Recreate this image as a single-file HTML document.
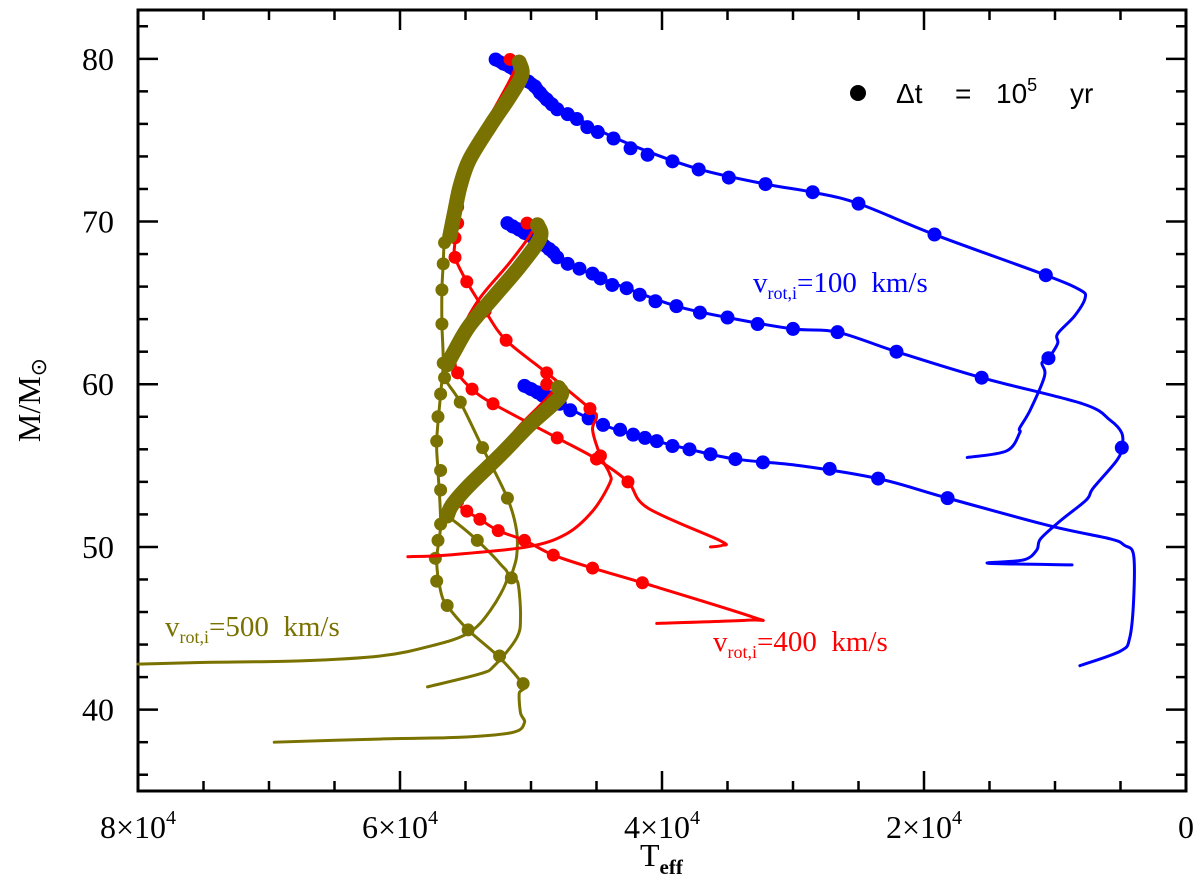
<!DOCTYPE html>
<html><head><meta charset="utf-8"><style>
html,body{margin:0;padding:0;background:#fff}
svg{display:block}
text{font-family:"Liberation Serif",serif}
</style></head><body>
<svg id="chart" width="1200" height="893" viewBox="0 0 1200 893" xmlns="http://www.w3.org/2000/svg">
<g id="axes"></g>
<g id="series"></g>
<g style="font-family:'Liberation Sans',sans-serif">
<circle cx="858" cy="93" r="8" fill="#000"/>
<text x="896" y="103" font-size="28" style="font-family:'Liberation Sans',sans-serif">Δt</text>
<text x="955" y="103" font-size="28" style="font-family:'Liberation Sans',sans-serif">=</text>
<text x="996" y="103" font-size="28" style="font-family:'Liberation Sans',sans-serif">10<tspan font-size="18" dy="-12">5</tspan></text>
<text x="1070" y="103" font-size="28" style="font-family:'Liberation Sans',sans-serif">yr</text>
</g>
<text x="753" y="292" font-size="29" fill="#0000ff" xml:space="preserve">v<tspan font-size="18" dy="7">rot,i</tspan><tspan dy="-7">=100  km/s</tspan></text>
<text x="713" y="651" font-size="29" fill="#ff0000" xml:space="preserve">v<tspan font-size="18" dy="7">rot,i</tspan><tspan dy="-7">=400  km/s</tspan></text>
<text x="165" y="636" font-size="29" fill="#7a7200" xml:space="preserve">v<tspan font-size="18" dy="7">rot,i</tspan><tspan dy="-7">=500  km/s</tspan></text>
<text transform="translate(40,400) rotate(-90)" text-anchor="middle" font-size="32">M/M<tspan font-size="22" dy="6">⊙</tspan></text>
<text x="640" y="866" font-size="32">T<tspan font-size="21" dy="8" font-weight="bold">eff</tspan></text>
</svg>
<script>
const xTicks=[8,6,4,2,0];
const xTickLabels=["8×10","6×10","4×10","2×10","0"];
const yTicks=[80,70,60,50,40];
const domainX=[8,0], domainY=[35,83];
// data: [Teff/1e4, M/Msun]
const blue80Line=[[5.29,79.96],[5.16,79.8],[4.89,77.7],[4.55,75.9],[4.17,74.5],[3.71,73.2],[3.21,72.3],[2.85,71.8],[2.50,71.1],[1.92,69.2],[1.07,66.7],[0.81,65.8],[0.77,65.3],[0.85,64.2],[0.98,63.1],[0.98,62.5],[1.05,61.6],[1.10,61.3],[1.08,60.5],[1.19,58.4],[1.27,57.3],[1.27,57.0],[1.37,55.9],[1.67,55.5]];
const blue80Dots=[[5.27,79.96],[5.21,79.7],[5.16,79.5],[5.11,79.2],[5.07,78.9],[5.02,78.6],[4.97,78.3],[4.93,77.9],[4.88,77.5],[4.84,77.2],[4.80,76.9],[4.72,76.6],[4.65,76.3],[4.57,75.8],[4.49,75.5],[4.37,75.1],[4.24,74.5],[4.11,74.1],[3.92,73.7],[3.72,73.2],[3.49,72.7],[3.21,72.3],[2.85,71.8],[2.50,71.1],[1.92,69.2],[1.07,66.7],[1.05,61.6]];
const blue70Line=[[5.20,69.9],[4.91,68.6],[4.63,67.1],[4.27,65.9],[3.89,64.8],[3.50,64.1],[3.00,63.4],[2.66,63.2],[2.21,62.0],[1.56,60.4],[0.79,58.8],[0.58,57.8],[0.49,57.0],[0.49,56.1],[0.53,55.3],[0.71,53.6],[0.76,52.9],[0.96,51.6],[1.11,50.5],[1.14,49.8],[1.24,49.2],[1.51,49.0],[0.87,48.9]];
const blue70Dots=[[5.18,69.9],[5.14,69.7],[5.09,69.5],[5.05,69.3],[5.00,69.1],[4.95,68.8],[4.91,68.6],[4.86,68.3],[4.83,68.1],[4.80,67.8],[4.72,67.4],[4.63,67.1],[4.53,66.8],[4.47,66.5],[4.38,66.1],[4.27,65.9],[4.17,65.5],[4.05,65.1],[3.89,64.8],[3.71,64.4],[3.50,64.1],[3.27,63.7],[3.00,63.4],[2.66,63.2],[2.21,62.0],[1.56,60.4],[0.49,56.1]];
const blue60Line=[[5.07,60.0],[4.78,58.8],[4.45,57.5],[4.13,56.7],[3.79,56.0],[3.44,55.4],[2.95,55.0],[2.35,54.2],[1.82,53.0],[1.04,51.3],[0.58,50.5],[0.47,50.1],[0.40,49.5],[0.40,46.7],[0.43,44.4],[0.50,43.6],[0.81,42.7]];
const blue60Dots=[[5.05,59.9],[5.00,59.7],[4.95,59.5],[4.91,59.3],[4.86,59.2],[4.81,59.0],[4.78,58.8],[4.70,58.4],[4.56,57.9],[4.45,57.5],[4.32,57.2],[4.22,56.9],[4.13,56.7],[4.04,56.5],[3.92,56.2],[3.79,56.0],[3.63,55.7],[3.44,55.4],[3.23,55.2],[2.72,54.8],[2.35,54.2],[1.82,53.0]];
const red80Line=[[5.16,79.96],[5.12,79.6],[5.16,78.7],[5.31,76.5],[5.47,74.1],[5.54,72.2],[5.57,70.4],[5.58,68.8],[5.58,67.8],[5.49,66.3],[5.35,64.5],[5.19,62.7],[4.88,60.7],[4.55,58.5],[4.50,58.0],[4.53,57.2],[4.47,55.6],[4.40,54.5],[4.40,53.9],[4.53,52.2],[4.73,50.8],[5.03,50.0],[5.64,49.5],[5.94,49.4]];
const red80Dots=[[5.16,79.96],[5.56,70.9],[5.56,69.9],[5.58,69.0],[5.58,67.8],[5.49,66.3],[5.35,64.5],[5.19,62.7],[4.88,60.7],[4.55,58.5],[4.47,55.6]];
const red70Line=[[5.03,69.9],[4.99,69.4],[5.16,67.5],[5.39,65.3],[5.53,63.3],[5.58,61.8],[5.56,60.7],[5.45,59.7],[5.29,58.8],[4.80,56.7],[4.50,55.4],[4.26,54.0],[4.11,52.4],[3.56,50.4],[3.54,50.1],[3.63,50.0]];
const red70Dots=[[5.03,69.9],[5.56,60.7],[5.45,59.7],[5.29,58.8],[4.80,56.7],[4.50,55.4],[4.26,54.0]];
const red60Line=[[4.88,60.0],[4.84,59.5],[5.08,57.5],[5.31,55.3],[5.49,53.5],[5.54,52.6],[5.49,52.2],[5.39,51.7],[5.25,51.0],[5.05,50.4],[4.83,49.5],[4.53,48.7],[4.15,47.8],[3.31,45.7],[3.34,45.5],[4.04,45.3]];
const red60Dots=[[4.88,60.0],[5.56,52.8],[5.49,52.2],[5.39,51.7],[5.25,51.0],[5.05,50.4],[4.83,49.5],[4.53,48.7],[4.15,47.8]];
const olive80Band=[[5.09,79.8],[5.07,79.0],[5.16,77.7],[5.31,75.9],[5.47,73.8],[5.54,72.2],[5.58,70.7],[5.62,69.1]];
const olive70Band=[[4.95,69.8],[4.93,69.0],[5.08,67.3],[5.27,65.5],[5.47,63.6],[5.58,62.1],[5.64,61.2]];
const olive60Band=[[4.79,59.8],[4.78,59.2],[5.01,57.5],[5.24,55.6],[5.47,53.8],[5.60,52.6],[5.64,51.9]];
const olive80Line=[[5.62,69.1],[5.66,68.7],[5.67,67.4],[5.68,65.8],[5.68,63.7],[5.67,61.3],[5.69,59.4],[5.72,56.5],[5.71,54.7],[5.69,51.4],[5.72,49.2],[5.69,47.3],[5.64,46.4],[5.48,44.9],[5.24,43.2],[5.06,41.5],[5.09,41.0],[5.08,39.8],[5.05,39.2],[5.14,38.6],[5.54,38.3],[6.13,38.2],[6.96,38.0]];
const olive80Dots=[[5.66,68.7],[5.67,67.4],[5.68,65.8],[5.68,63.7],[5.67,61.3],[5.66,60.4],[5.69,59.4],[5.71,58.0],[5.72,56.5],[5.69,54.7],[5.69,53.5],[5.69,51.4],[5.71,50.4],[5.73,49.3],[5.72,47.9],[5.64,46.4],[5.48,44.9],[5.24,43.3],[5.06,41.6]];
const olive70Line=[[5.64,61.2],[5.66,60.4],[5.54,58.9],[5.37,56.1],[5.18,53.0],[5.11,51.0],[5.11,49.4],[5.15,48.1],[5.10,47.8],[5.08,45.7],[5.11,44.4],[5.28,42.7],[5.39,42.2],[5.79,41.4]];
const olive70Dots=[[5.54,58.9],[5.37,56.1],[5.18,53.0],[5.15,48.1]];
const olive60Line=[[5.64,51.9],[5.54,51.3],[5.41,50.4],[5.24,49.0],[5.18,48.1],[5.31,46.1],[5.48,44.7],[5.77,43.9],[6.15,43.3],[6.76,43.0],[7.53,42.9],[8.00,42.8]];
const olive60Dots=[[5.41,50.4]];

const L=138,R=1186,T=10,B=791;
const sx=v=>L+(v-domainX[0])/(domainX[1]-domainX[0])*(R-L);
const sy=v=>B-(v-domainY[0])/(domainY[1]-domainY[0])*(B-T);
const NS="http://www.w3.org/2000/svg";
function mk(tag,parent,attrs){const e=document.createElementNS(NS,tag);for(const k in attrs)e.setAttribute(k,attrs[k]);parent.appendChild(e);return e;}
const ax=document.getElementById('axes'), se=document.getElementById('series');
const frame=mk('rect',ax,{x:L,y:T,width:R-L,height:B-T,fill:'none',stroke:'#000','stroke-width':3});


for(let v=0;v<=8.001;v+=0.5){
  const major=Math.abs(v-Math.round(v/2)*2)<1e-6, len=major?20:10, x=sx(v);
  const t1=mk('line',ax,{x1:x,x2:x,y1:B,y2:B-len,stroke:'#000','stroke-width':2.5});
  
  
  const t2=mk('line',ax,{x1:x,x2:x,y1:T,y2:T+len,stroke:'#000','stroke-width':2.5});
  
  
}
for(let v=36;v<=82;v+=2){
  const major=v%10===0, len=major?20:10, y=sy(v);
  const t1=mk('line',ax,{x1:L,x2:L+len,y1:y,y2:y,stroke:'#000','stroke-width':2.5});
  
  
  const t2=mk('line',ax,{x1:R,x2:R-len,y1:y,y2:y,stroke:'#000','stroke-width':2.5});
  
  
}
xTicks.forEach((v,i)=>{
  const t=mk('text',ax,{x:sx(v),y:838,'text-anchor':'middle','font-size':32});
  
  
  t.textContent=xTickLabels[i];
  if(v!==0){const s=mk('tspan',t,{'font-size':20,dy:-14});s.textContent='4';}
});
yTicks.forEach(v=>{
  const t=mk('text',ax,{x:114,y:sy(v)+11,'text-anchor':'end','font-size':32});
  
  
  t.textContent=v;
});
function smooth(pts){
  const p=pts.map(d=>[sx(d[0]),sy(d[1])]);
  let s='M'+p[0][0]+','+p[0][1];
  for(let i=0;i<p.length-1;i++){
    const p0=p[Math.max(0,i-1)],p1=p[i],p2=p[i+1],p3=p[Math.min(p.length-1,i+2)];
    const c1=[p1[0]+(p2[0]-p0[0])/6,p1[1]+(p2[1]-p0[1])/6],c2=[p2[0]-(p3[0]-p1[0])/6,p2[1]-(p3[1]-p1[1])/6];
    s+=' C'+c1[0]+','+c1[1]+' '+c2[0]+','+c2[1]+' '+p2[0]+','+p2[1];
  }
  return s;
}
function line(pts,color,w,name){
  const e=mk('path',se,{d:smooth(pts),fill:'none',stroke:color,'stroke-width':w,'stroke-linecap':'round','stroke-linejoin':'round'});
  
  
}
function dots(pts,color,r,name){
  pts.forEach(d=>{
    const c=mk('circle',se,{cx:sx(d[0]),cy:sy(d[1]),r:r,fill:color});
    
    
  });
}
const BL='#0000ff',RD='#ff0000',OL='#7a7200';
line(blue80Line,BL,3,'track-100-80');dots(blue80Dots,BL,7,'dot-100-80');line(blue80Dots.slice(0,10),BL,13,'dense-100-80');
line(blue70Line,BL,3,'track-100-70');dots(blue70Dots,BL,7,'dot-100-70');line(blue70Dots.slice(0,9),BL,13,'dense-100-70');
line(blue60Line,BL,3,'track-100-60');dots(blue60Dots,BL,7,'dot-100-60');line(blue60Dots.slice(0,7),BL,13,'dense-100-60');
line(olive80Line,OL,3,'track-500-80');dots(olive80Dots,OL,6.5,'dot-500-80');
line(olive70Line,OL,3,'track-500-70');dots(olive70Dots,OL,6.5,'dot-500-70');
line(olive60Line,OL,3,'track-500-60');dots(olive60Dots,OL,6.5,'dot-500-60');
line(red80Line,RD,3,'track-400-80');dots(red80Dots,RD,6.5,'dot-400-80');
line(red70Line,RD,3,'track-400-70');dots(red70Dots,RD,6.5,'dot-400-70');
line(red60Line,RD,3,'track-400-60');dots(red60Dots,RD,6.5,'dot-400-60');
line(olive80Band,OL,15,'band-500-80');
line(olive70Band,OL,15,'band-500-70');
line(olive60Band,OL,15,'band-500-60');
</script>
</body></html>
